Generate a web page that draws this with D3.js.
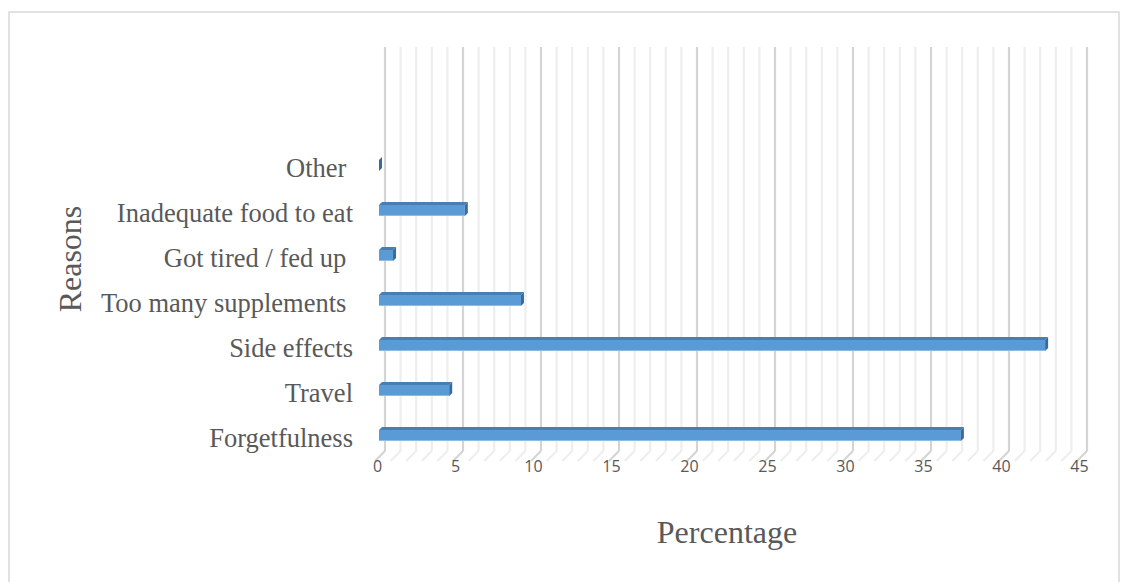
<!DOCTYPE html>
<html>
<head>
<meta charset="utf-8">
<script src="https://cdn.jsdelivr.net/npm/d3@7"></script>
<style>
  html, body { margin: 0; padding: 0; background: #fff; }
  svg { display: block; }
</style>
</head>
<body>
<svg id="chart" width="1128" height="582"></svg>
<script>
// Reasons for not taking supplements (percentage of respondents)
const categories = ["Forgetfulness", "Travel", "Side effects", "Too many supplements ", "Got tired / fed up ", "Inadequate food to eat", "Other "];
const percentages = [37.3, 4.5, 42.7, 9.1, 0.9, 5.5, 0];
const tickValues = [0, 5, 10, 15, 20, 25, 30, 35, 40, 45];
const xTitle = "Percentage";
const yTitle = "Reasons";

const svg = d3.select("#chart");

// outer frame
svg.append("rect")
  .attr("x", 9).attr("y", 12)
  .attr("width", 1110).attr("height", 590)
  .attr("fill", "none")
  .attr("stroke", "#d9d9d9")
  .attr("stroke-width", 1.5);

// oblique depth: the back wall sits 10px right and 10px up from the floor's front edge
const DEPTH = 10;
const wallTop = 47, wallBottom = 451;

// value scale along the front edge of the floor
const x = d3.scaleLinear().domain([0, 45]).range([375, 1077]);

// category bands (front face of each bar), top to bottom
const y = d3.scaleBand()
  .domain(categories.slice().reverse())
  .range([160, 441])
  .paddingInner(0.756)
  .paddingOuter(0);

// wall and floor gridlines, one per unit, stronger every 5
const grid = svg.append("g");
const gridVals = d3.range(0, 46);
gridVals.forEach(v => {
  const major = v % 5 === 0;
  const col = major ? "#d4d4d4" : "#eeeeee";
  const bx = x(v) + DEPTH;
  grid.append("line")
    .attr("x1", bx).attr("x2", bx)
    .attr("y1", wallTop).attr("y2", wallBottom)
    .attr("stroke", col).attr("stroke-width", 2.2);
  grid.append("line")
    .attr("x1", bx).attr("y1", wallBottom)
    .attr("x2", x(v)).attr("y2", wallBottom + DEPTH)
    .attr("stroke", col).attr("stroke-width", 2.2);
});

// 3D bars: front face at depth 0.4, back face at depth 0.7
const fOff = 0.4 * DEPTH, bOff = 0.7 * DEPTH;
const dz = bOff - fOff;
const bars = svg.append("g").selectAll("g")
  .data(categories.map((c, i) => ({ c, v: percentages[i] })))
  .join("g");

bars.append("path") // top face
  .attr("fill", "#4a7db0")
  .attr("d", d => {
    const x0 = x(0) + fOff, x1 = x(d.v) + fOff, yt = y(d.c);
    return `M${x0},${yt}L${x1},${yt}L${x1 + dz},${yt - dz}L${x0 + dz},${yt - dz}Z`;
  });

bars.append("rect") // front face
  .attr("x", d => x(0) + fOff)
  .attr("y", d => y(d.c))
  .attr("width", d => x(d.v) - x(0))
  .attr("height", y.bandwidth())
  .attr("fill", "#5b9bd5");

bars.append("line") // soft lower edge
  .attr("x1", d => x(0) + fOff)
  .attr("x2", d => x(d.v) + fOff)
  .attr("y1", d => y(d.c) + y.bandwidth() - 0.5)
  .attr("y2", d => y(d.c) + y.bandwidth() - 0.5)
  .attr("stroke", "#8fbbe6").attr("stroke-width", 1);

bars.append("path") // right side face
  .attr("fill", "#386a9c")
  .attr("d", d => {
    const x1 = x(d.v) + fOff, yt = y(d.c), yb = yt + y.bandwidth();
    return `M${x1},${yt}L${x1 + dz},${yt - dz}L${x1 + dz},${yb - dz}L${x1},${yb}Z`;
  });

// value axis along the floor's front edge
const xAxis = svg.append("g")
  .attr("transform", `translate(2,${wallBottom + DEPTH})`)
  .call(d3.axisBottom(x).tickValues(tickValues).tickSize(0).tickPadding(0).tickFormat(d3.format("d")));
xAxis.select(".domain").remove();
xAxis.selectAll("text")
  .style("font-family", "'Open Sans', 'Liberation Sans', sans-serif")
  .style("font-size", "16px")
  .style("fill", "#595959");

// category labels
svg.append("g").selectAll("text")
  .data(categories)
  .join("text")
  .attr("x", 353)
  .attr("y", d => y(d) + y.bandwidth() / 2)
  .attr("dy", "0.42em")
  .attr("text-anchor", "end")
  .style("white-space", "pre")
  .attr("font-family", "'Liberation Serif', 'Times New Roman', serif")
  .attr("font-size", 26.5)
  .attr("fill", "#595959")
  .text(d => d);

// axis titles
svg.append("text")
  .attr("x", 727).attr("y", 543)
  .attr("text-anchor", "middle")
  .attr("font-family", "'Liberation Serif', 'Times New Roman', serif")
  .attr("font-size", 32)
  .attr("fill", "#595959")
  .text(xTitle);

svg.append("text")
  .attr("transform", "translate(81,259) rotate(-90)")
  .attr("text-anchor", "middle")
  .attr("font-family", "'Liberation Serif', 'Times New Roman', serif")
  .attr("font-size", 32)
  .attr("fill", "#595959")
  .text(yTitle);
</script>
</body>
</html>
